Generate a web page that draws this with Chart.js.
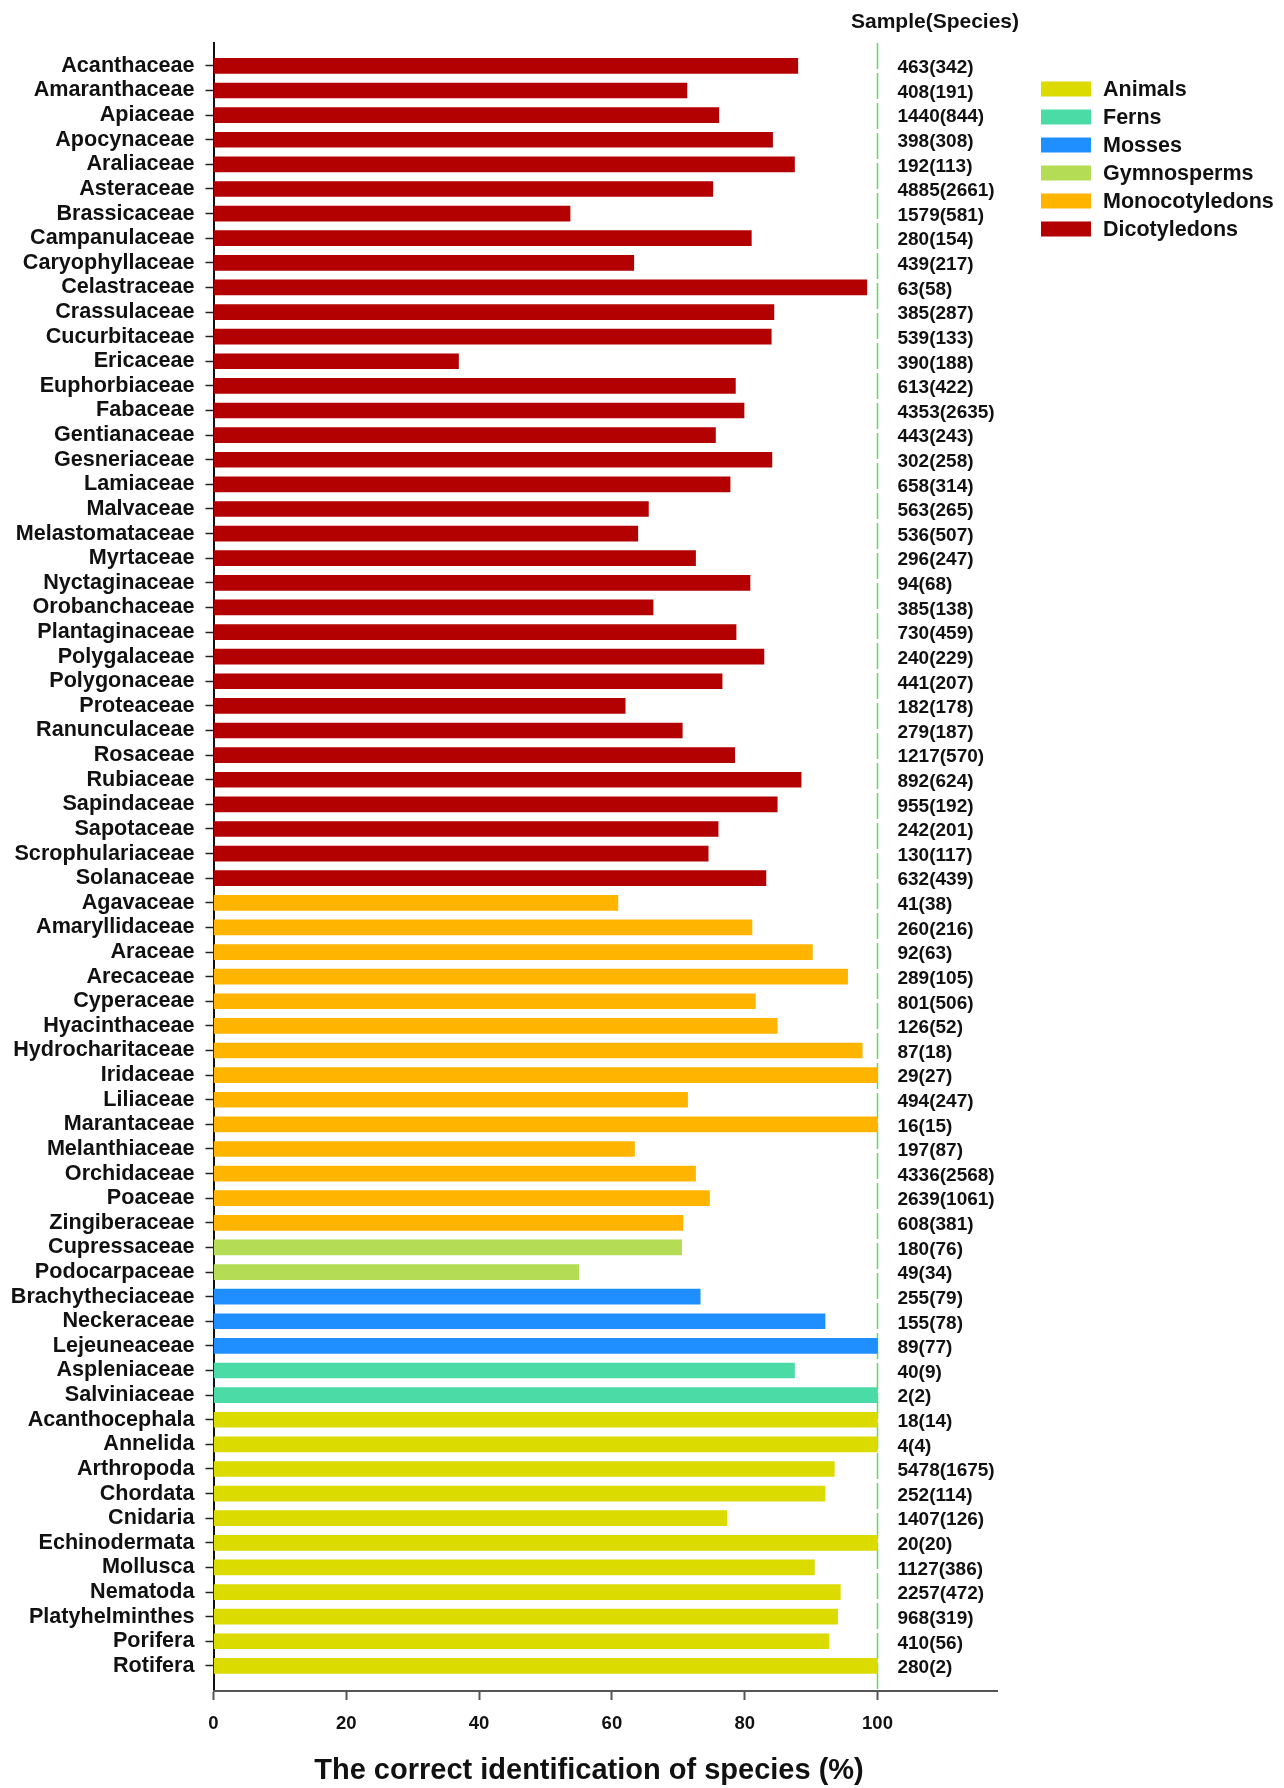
<!DOCTYPE html>
<html>
<head>
<meta charset="utf-8">
<script src="https://cdn.jsdelivr.net/npm/chart.js@4/dist/chart.umd.min.js"></script>
<style>
  html, body { margin: 0; padding: 0; background: #ffffff; }
  #wrap { width: 1284px; height: 1788px; position: relative; }
</style>
</head>
<body>
<div id="wrap"><canvas id="chart" width="1284" height="1788"></canvas></div>
<script>
// Families, top to bottom
const families = [
  'Acanthaceae','Amaranthaceae','Apiaceae','Apocynaceae','Araliaceae','Asteraceae','Brassicaceae',
  'Campanulaceae','Caryophyllaceae','Celastraceae','Crassulaceae','Cucurbitaceae','Ericaceae',
  'Euphorbiaceae','Fabaceae','Gentianaceae','Gesneriaceae','Lamiaceae','Malvaceae','Melastomataceae',
  'Myrtaceae','Nyctaginaceae','Orobanchaceae','Plantaginaceae','Polygalaceae','Polygonaceae',
  'Proteaceae','Ranunculaceae','Rosaceae','Rubiaceae','Sapindaceae','Sapotaceae','Scrophulariaceae',
  'Solanaceae',
  'Agavaceae','Amaryllidaceae','Araceae','Arecaceae','Cyperaceae','Hyacinthaceae','Hydrocharitaceae',
  'Iridaceae','Liliaceae','Marantaceae','Melanthiaceae','Orchidaceae','Poaceae','Zingiberaceae',
  'Cupressaceae','Podocarpaceae',
  'Brachytheciaceae','Neckeraceae','Lejeuneaceae',
  'Aspleniaceae','Salviniaceae',
  'Acanthocephala','Annelida','Arthropoda','Chordata','Cnidaria','Echinodermata','Mollusca',
  'Nematoda','Platyhelminthes','Porifera','Rotifera'
];

// Correct identification rate (%)
const accuracy = [
  88.0, 71.3, 76.1, 84.2, 87.5, 75.2, 53.7, 81.0, 63.3, 98.4, 84.4, 84.0, 36.9,
  78.6, 79.9, 75.6, 84.1, 77.8, 65.5, 63.9, 72.6, 80.8, 66.2, 78.7, 82.9, 76.6,
  62.0, 70.6, 78.5, 88.5, 84.9, 76.0, 74.5, 83.2,
  60.9, 81.1, 90.2, 95.5, 81.6, 84.9, 97.7, 100, 71.4, 100, 63.4, 72.6, 74.7, 70.7,
  70.5, 55.0,
  73.3, 92.1, 100,
  87.5, 100,
  100, 100, 93.5, 92.1, 77.3, 100, 90.5, 94.4, 94.0, 92.7, 100
];

// Samples (species) per family
const sampleCounts = [
  '463(342)','408(191)','1440(844)','398(308)','192(113)','4885(2661)','1579(581)',
  '280(154)','439(217)','63(58)','385(287)','539(133)','390(188)',
  '613(422)','4353(2635)','443(243)','302(258)','658(314)','563(265)','536(507)',
  '296(247)','94(68)','385(138)','730(459)','240(229)','441(207)',
  '182(178)','279(187)','1217(570)','892(624)','955(192)','242(201)','130(117)',
  '632(439)',
  '41(38)','260(216)','92(63)','289(105)','801(506)','126(52)','87(18)',
  '29(27)','494(247)','16(15)','197(87)','4336(2568)','2639(1061)','608(381)',
  '180(76)','49(34)',
  '255(79)','155(78)','89(77)',
  '40(9)','2(2)',
  '18(14)','4(4)','5478(1675)','252(114)','1407(126)','20(20)','1127(386)',
  '2257(472)','968(319)','410(56)','280(2)'
];

// Group of each family
const familyGroup = [].concat(
  Array(34).fill('Dicotyledons'),
  Array(14).fill('Monocotyledons'),
  Array(2).fill('Gymnosperms'),
  Array(3).fill('Mosses'),
  Array(2).fill('Ferns'),
  Array(11).fill('Animals')
);

const groups = ['Animals', 'Ferns', 'Mosses', 'Gymnosperms', 'Monocotyledons', 'Dicotyledons'];
const groupColors = ['#dbdb00', '#4adba6', '#1f8fff', '#b5dc55', '#ffb400', '#b30000'];
const xTickValues = [0, 20, 40, 60, 80, 100];

const FONT = '"Liberation Sans", Arial, sans-serif';
const INK = '#111111';

// One dataset per group; each family sits at its own row index
const datasets = groups.map((g, gi) => ({
  label: g,
  backgroundColor: groupColors[gi],
  borderWidth: 0,
  barThickness: 15,
  grouped: false,
  data: families
    .map((f, i) => ({ x: accuracy[i], y: i, g: familyGroup[i] }))
    .filter(p => p.g === g)
}));

const overlay = {
  id: 'overlay',
  beforeDatasetsDraw(chart) {
    const { ctx, scales: { x }, chartArea } = chart;
    // dashed reference line at 100 %
    const px = Math.round(x.getPixelForValue(100)) + 0.5;
    ctx.save();
    ctx.strokeStyle = '#5ddc5d';
    ctx.lineWidth = 1.5;
    ctx.setLineDash([26, 4]);
    ctx.beginPath();
    ctx.moveTo(px, chartArea.top);
    ctx.lineTo(px, chartArea.bottom);
    ctx.stroke();
    ctx.restore();
  },
  afterDraw(chart) {
    const { ctx, scales: { x, y } } = chart;
    ctx.save();
    ctx.fillStyle = INK;

    // sample (species) counts beside each row
    const lx = x.getPixelForValue(100) + 20;
    ctx.font = 'bold 19px ' + FONT;
    ctx.textAlign = 'left';
    ctx.textBaseline = 'middle';
    sampleCounts.forEach((s, i) => {
      ctx.fillText(s, lx, y.getPixelForValue(i) + 2);
    });

    // column heading
    ctx.font = 'bold 21px ' + FONT;
    ctx.textAlign = 'center';
    ctx.fillText('Sample(Species)', 935, 22);

    // legend
    ctx.font = 'bold 21.5px ' + FONT;
    ctx.textAlign = 'left';
    groups.forEach((g, gi) => {
      const cy = 89 + gi * 28;
      ctx.fillStyle = groupColors[gi];
      ctx.fillRect(1041, cy - 7.5, 50, 15);
      ctx.fillStyle = INK;
      ctx.fillText(g, 1103, cy + 1);
    });

    // axis title
    ctx.font = 'bold 29px ' + FONT;
    ctx.textAlign = 'center';
    ctx.fillText('The correct identification of species (%)', 589, 1771);
    ctx.restore();
  }
};

new Chart(document.getElementById('chart'), {
  type: 'bar',
  data: { datasets },
  options: {
    indexAxis: 'y',
    responsive: false,
    animation: false,
    devicePixelRatio: 1,
    layout: { padding: { top: 43, right: 287, bottom: 0, left: 0 } },
    plugins: { legend: { display: false }, tooltip: { enabled: false } },
    scales: {
      y: {
        type: 'linear',
        reverse: true,
        offset: false,
        min: -0.93,
        max: 66.02,
        afterBuildTicks: s => { s.ticks = families.map((_, i) => ({ value: i })); },
        afterFit: s => { s.width = 213.5; },
        ticks: {
          autoSkip: false,
          callback: v => families[v],
          color: INK,
          padding: 11,
          font: { family: FONT, size: 21.6, weight: 'bold' }
        },
        grid: { offset: false, drawOnChartArea: false, drawTicks: true, tickLength: 8, tickColor: '#222', tickWidth: 1.5 },
        border: { display: true, color: '#111', width: 2 }
      },
      x: {
        type: 'linear',
        offset: false,
        min: 0,
        max: 118,
        afterBuildTicks: s => { s.ticks = xTickValues.map(v => ({ value: v })); },
        afterFit: s => { s.height = 97; },
        ticks: {
          autoSkip: false,
          color: INK,
          padding: 13,
          maxRotation: 0,
          font: { family: FONT, size: 18.5, weight: 'bold' }
        },
        grid: { offset: false, drawOnChartArea: false, drawTicks: true, tickLength: 9, tickColor: '#555', tickWidth: 2 },
        border: { display: true, color: '#555', width: 2 }
      }
    }
  },
  plugins: [overlay]
});
</script>
</body>
</html>
